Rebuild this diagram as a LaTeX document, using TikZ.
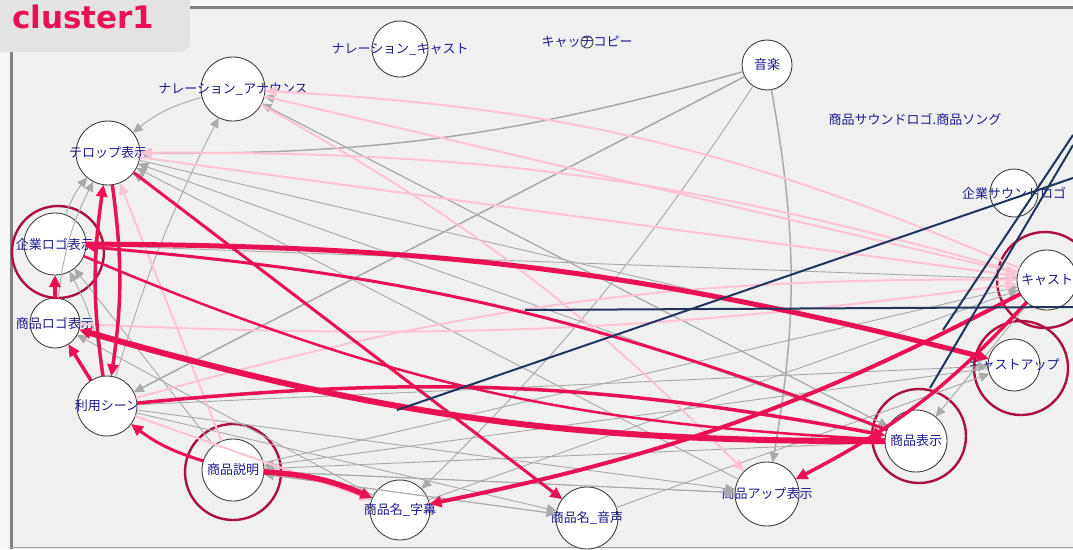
\documentclass[tikz,border=0pt]{standalone}
\usepackage{fontspec}
\newfontfamily\jpfont{Noto Sans CJK JP}
\newfontfamily\tabfont{DejaVu Sans}
\usetikzlibrary{arrows.meta,positioning}
\definecolor{strongedge}{RGB}{234,16,84}
\definecolor{softedge}{RGB}{255,196,212}
\definecolor{grayedge}{RGB}{170,170,170}
\definecolor{navyedge}{RGB}{32,52,92}
\definecolor{ringred}{RGB}{172,16,62}
\definecolor{labelblue}{RGB}{28,28,140}
\definecolor{panelbg}{RGB}{240,240,240}
\definecolor{pagebg}{RGB}{246,246,246}
\definecolor{tabbg}{RGB}{227,227,227}
\definecolor{framegray}{RGB}{128,128,128}
\tikzset{
	vnode/.style={
		circle,
		draw=black!75,
		line width=0.9pt,
		fill=white,
		inner sep=0pt,
		outer sep=0pt,
	},
	vlabel/.style={
		text=labelblue,
		font=\jpfont\fontsize{13}{15}\selectfont,
		inner sep=0pt,
	},
	ring/.style={draw=ringred, line width=2.4pt},
	strong/.style={color=strongedge, line width=3pt, -{Triangle[length=12pt,width=11pt]}},
	soft/.style={color=softedge, line width=2pt, -{Triangle[length=12pt,width=10pt]}},
	faint/.style={color=grayedge, line width=0.9pt, -{Triangle[length=10pt,width=9pt]}},
	link/.style={draw=navyedge, line width=2pt},
}
\begin{document}
\begin{tikzpicture}[x=1pt,y=-1pt]
	\useasboundingbox (0,0) rectangle (1073,549);
	\fill[pagebg] (0,0) rectangle (1073,549);
	\fill[panelbg] (11,7) rectangle (1073,547);
	\draw[framegray, line width=3pt] (11,549) -- (11,7) -- (1073,7);
	\draw[framegray!80, line width=1.5pt] (11,547.5) -- (1073,547.5);
	\fill[tabbg, rounded corners=10pt] (-20,-20) rectangle (190,52);
	\node[anchor=base west, inner sep=0pt, text=strongedge,
	font=\tabfont\bfseries\fontsize{31}{33}\selectfont] (TITLE) at (12,28) {cluster1};
	
	% vertices
	\node[vnode, minimum size=64pt,
	label={[vlabel]center:テロップ表示}] (TELOP) at (108,153) {};
	\node[vnode, minimum size=64pt,
	label={[vlabel]center:ナレーション\_アナウンス}] (NARRANN) at (233,89) {};
	\node[vnode, minimum size=56pt,
	label={[vlabel]center:ナレーション\_キャスト}] (NARRCAST) at (400,49) {};
	\node[vnode, minimum size=12pt,
	label={[vlabel]center:キャッチコピー}] (CATCH) at (587,42) {};
	\node[vnode, minimum size=50pt,
	label={[vlabel]center:音楽}] (MUSIC) at (767,65) {};
	\node[vlabel] (SOUNDLOGO) at (915,119) {商品サウンドロゴ.商品ソング};
	\node[vnode, minimum size=48pt,
	label={[vlabel]center:企業サウンドロゴ}] (CORPSOUND) at (1014,193) {};
	\node[vnode, minimum size=60pt,
	label={[vlabel]center:キャスト}] (CAST) at (1047,280) {};
	\node[vnode, minimum size=52pt,
	label={[vlabel]center:キャストアップ}] (CASTUP) at (1014,365) {};
	\node[vnode, minimum size=62pt,
	label={[vlabel]center:商品表示}] (PRODSHOW) at (916,441) {};
	\node[vnode, minimum size=64pt,
	label={[vlabel]center:商品アップ表示}] (PRODUP) at (767,494) {};
	\node[vnode, minimum size=62pt,
	label={[vlabel]center:商品名\_音声}] (NAMEVOICE) at (587,518) {};
	\node[vnode, minimum size=60pt,
	label={[vlabel]center:商品名\_字幕}] (NAMETEXT) at (400,510) {};
	\node[vnode, minimum size=62pt,
	label={[vlabel]center:商品説明}] (PRODDESC) at (233,470) {};
	\node[vnode, minimum size=60pt,
	label={[vlabel]center:利用シーン}] (SCENE) at (107,406) {};
	\node[vnode, minimum size=50pt,
	label={[vlabel]center:商品ロゴ表示}] (PRODLOGO) at (55,323) {};
	\node[vnode, minimum size=62pt,
	label={[vlabel]center:企業ロゴ表示}] (CORPLOGO) at (55,244) {};
	
	% rings
	\draw[ring] (CORPLOGO.center) ++(3,8) circle[radius=46pt];
	\draw[ring] (PRODDESC.center) ++(0,2) circle[radius=48pt];
	\draw[ring] (PRODSHOW.center) ++(3,-5) circle[radius=47pt];
	\draw[ring] (CASTUP.center) ++(7,3) circle[radius=47pt];
	\draw[ring] (CAST.center) ++(-2,0) circle[radius=48pt];
	
	\path[faint]
	(MUSIC) edge[line width=1.5pt, bend left=8] (TELOP)
	(MUSIC) edge[line width=1.5pt] (SCENE)
	(MUSIC) edge[bend left=6] (NAMETEXT)
	(MUSIC) edge[line width=1.5pt, bend left=10] (PRODUP)
	(NARRANN) edge[bend right=12] (TELOP)
	(SCENE) edge[bend left=5] (NARRANN)
	(PRODLOGO) edge[bend left=10] (TELOP)
	(CORPLOGO) edge[bend left=10] (TELOP)
	(PRODSHOW) edge (TELOP)
	(PRODUP) edge (TELOP)
	(NAMEVOICE) edge (TELOP)
	(SCENE) edge[bend right=10] (CORPLOGO)
	(PRODDESC) edge (CORPLOGO)
	(NAMETEXT) edge (PRODLOGO)
	(PRODSHOW) edge (NARRANN)
	(CAST) edge (NARRANN)
	(NARRANN) edge (PRODSHOW)
	(CAST) edge (PRODSHOW)
	(PRODSHOW) edge (PRODDESC)
	(PRODUP) edge (PRODDESC)
	(NAMEVOICE) edge (PRODDESC)
	(CASTUP) edge (PRODDESC)
	(PRODDESC) edge (NAMEVOICE)
	(SCENE) edge (NAMEVOICE)
	(SCENE) edge (PRODUP)
	(PRODDESC) edge (PRODUP)
	(TELOP) edge (CAST)
	(CORPLOGO) edge (CAST)
	(PRODDESC) edge (CAST)
	(NAMETEXT) edge (CAST)
	(NAMEVOICE) edge (CASTUP)
	(SCENE) edge (CASTUP)
	(TELOP) edge (CASTUP);
	
	\path[soft]
	(CAST) edge[bend right=8] (TELOP)
	(TELOP) edge (CAST)
	(CAST) edge[bend right=10] (NARRANN)
	(NARRANN) edge (CAST)
	(SCENE) edge[bend left=8] (CAST)
	(PRODLOGO) edge[bend right=5] (CAST)
	(NARRANN) edge[bend left=8] (PRODUP)
	(PRODDESC) edge (TELOP)
	(SCENE) edge (NAMETEXT);
	
	\path[strong]
	(CORPLOGO) edge[line width=5pt, bend left=7] (CASTUP)
	(PRODSHOW) edge[bend right=8] (CORPLOGO)
	(CORPLOGO) edge[line width=2.5pt, bend right=10] (PRODSHOW)
	(PRODSHOW) edge[line width=6pt, bend left=8] (PRODLOGO)
	(SCENE) edge[line width=3.5pt, bend left=8] (PRODSHOW)
	(PRODDESC) edge[line width=5.5pt, bend left=10] (NAMETEXT)
	(PRODDESC) edge[bend left=10] (SCENE)
	(CAST) edge[line width=4pt, bend left=8] (NAMETEXT)
	(CAST) edge[line width=3.5pt, bend left=10] (PRODUP)
	(TELOP) edge (NAMEVOICE)
	(SCENE) edge[line width=3.5pt, bend left=8] (TELOP)
	(TELOP) edge[line width=3.5pt, bend left=8] (SCENE)
	(SCENE) edge[line width=3.5pt] (PRODLOGO)
	(PRODLOGO) edge[line width=3.5pt] (CORPLOGO);
	
	% links leaving the cluster
	\coordinate (OUTA) at (397,410);
	\coordinate (OUTB) at (1073,178);
	\coordinate (OUTC) at (525,310);
	\coordinate (OUTD) at (1073,307);
	\coordinate (OUTE) at (943,330);
	\coordinate (OUTF) at (1073,135);
	\coordinate (OUTG) at (930,388);
	\coordinate (OUTH) at (1073,145);
	\draw[link] (OUTA) -- (OUTB);
	\draw[link] (OUTC) -- (OUTD);
	\draw[link] (OUTE) -- (OUTF);
	\draw[link] (OUTG) -- (OUTH);
\end{tikzpicture}
\end{document}
